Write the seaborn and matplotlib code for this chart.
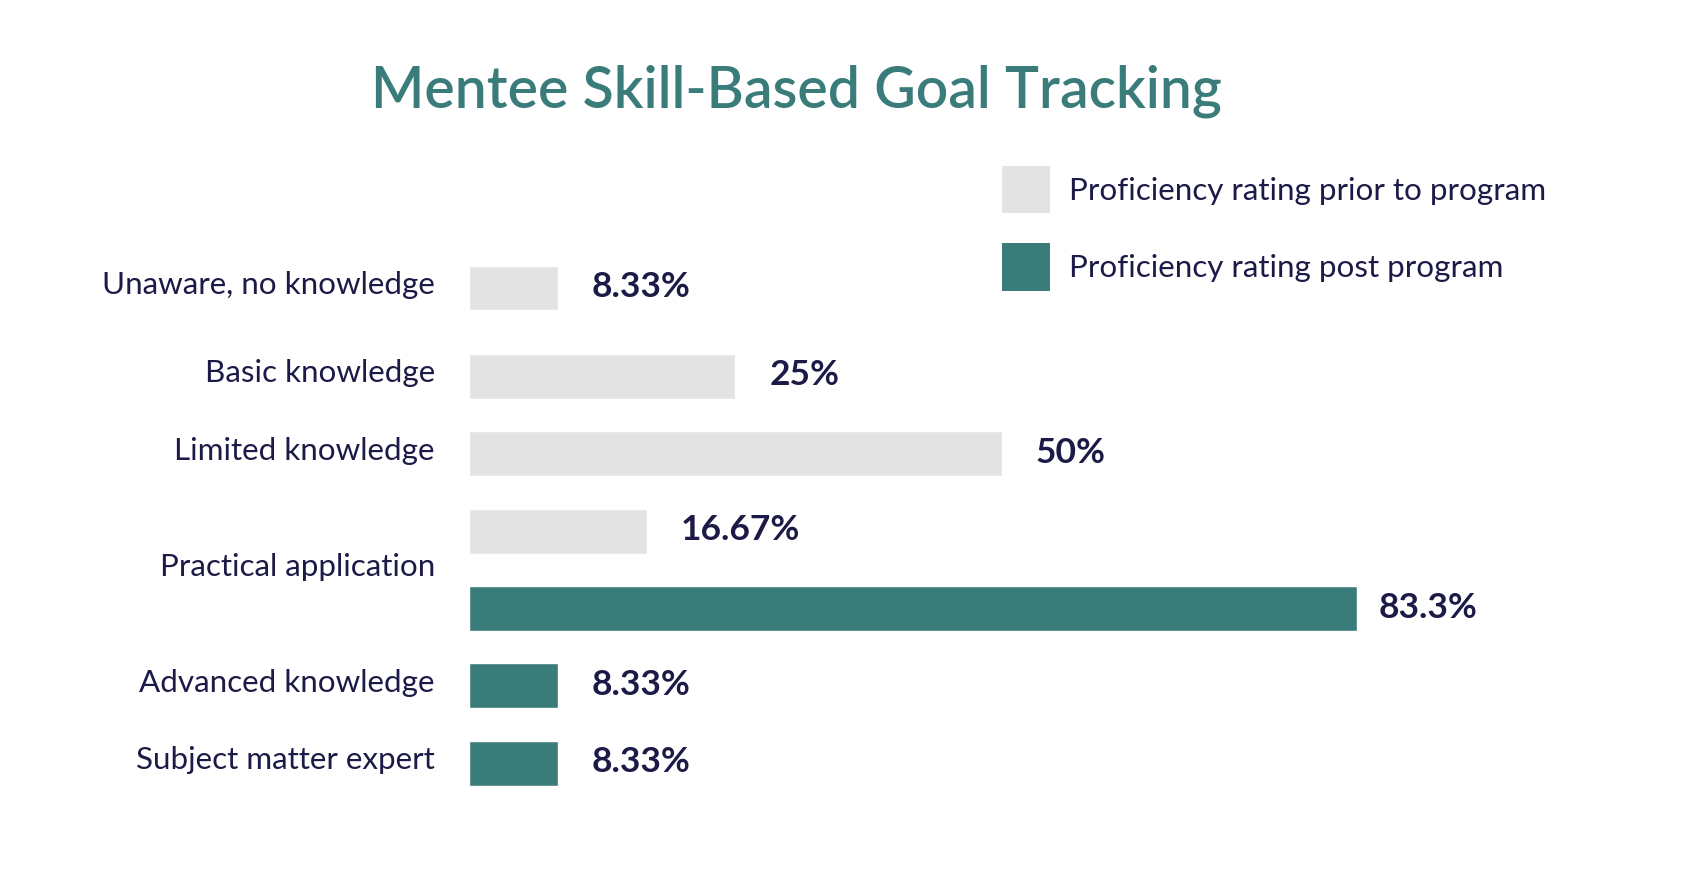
import pandas as pd
import seaborn as sns
import matplotlib.pyplot as plt
from matplotlib.patches import Patch

# chart data
categories = ["Unaware, no knowledge", "Basic knowledge", "Limited knowledge",
              "Practical application", "Advanced knowledge", "Subject matter expert"]
bar_category = ["Unaware, no knowledge", "Basic knowledge", "Limited knowledge",
                "Practical application", "Practical application",
                "Advanced knowledge", "Subject matter expert"]
series_names = ["Proficiency rating prior to program", "Proficiency rating post program"]
bar_series = [series_names[0]] * 4 + [series_names[1]] * 3
bar_values = [8.33, 25, 50, 16.67, 83.3, 8.33, 8.33]
value_labels = ["8.33%", "25%", "50%", "16.67%", "83.3%", "8.33%", "8.33%"]

# layout: vertical slot of each bar (first gap is a bit wider in the original)
row_pos = [0, 1.14, 2.14, 3.14, 4.14, 5.13, 6.13]
label_pad = [34, 34, 34, 34, 22, 34, 34]

TEAL = "#3a7c7a"
GREY = "#e3e3e3"
NAVY = "#1c1a46"
palette = {series_names[0]: GREY, series_names[1]: TEAL}

sns.set_style("white")
plt.rcParams['font.family'] = ['Lato', 'DejaVu Sans']

df = pd.DataFrame({"category": bar_category, "series": bar_series,
                   "value": bar_values, "pos": row_pos})

W, H = 1690, 890
ax_left, ax_w = 469, 1180
px_per_pct = 10.66
px_per_row = 77.5
first_row_y = 288

fig = plt.figure(figsize=(W / 100, H / 100), dpi=100)
ax = fig.add_axes([ax_left / W, 0, ax_w / W, 1])

sns.barplot(data=df, x="value", y="pos", hue="series", orient="h",
            native_scale=True, dodge=False, width=0.585, palette=palette,
            saturation=1, legend=False, ax=ax)

ax.set_xlim(0, ax_w / px_per_pct)
ax.set_ylim((H - first_row_y) / px_per_row, -first_row_y / px_per_row)
ax.axis("off")

# value labels
for v, p, txt, pad in zip(bar_values, row_pos, value_labels, label_pad):
    ax.annotate(txt, xy=(v, p), xytext=(pad, -9), textcoords="offset pixels",
                ha="left", va="baseline", fontsize=25.5, fontweight="bold", color=NAVY)

# category labels, centred on their bars
for cat in categories:
    ps = [p for c, p in zip(bar_category, row_pos) if c == cat]
    ax.annotate(cat, xy=(0, sum(ps) / len(ps)), xytext=(-34, -6), textcoords="offset pixels",
                ha="right", va="baseline", fontsize=22.6, color=NAVY)

handles = [Patch(facecolor=palette[s], edgecolor="none") for s in series_names]
ax.legend(handles, series_names, loc="upper left", bbox_to_anchor=(1002 / W, 1 - 166 / H),
          bbox_transform=fig.transFigure, frameon=False, labelcolor=NAVY,
          prop={"size": 22.6},
          handlelength=1.52, handleheight=1.95, handletextpad=0.6, labelspacing=0.95,
          borderpad=0, borderaxespad=0)

fig.text(796 / W, 1 - 107 / H, "Mentee Skill-Based Goal Tracking", ha="center",
         va="baseline", fontsize=41, fontweight="semibold", color=TEAL)

fig.savefig("out.png", dpi=100, facecolor="white")
